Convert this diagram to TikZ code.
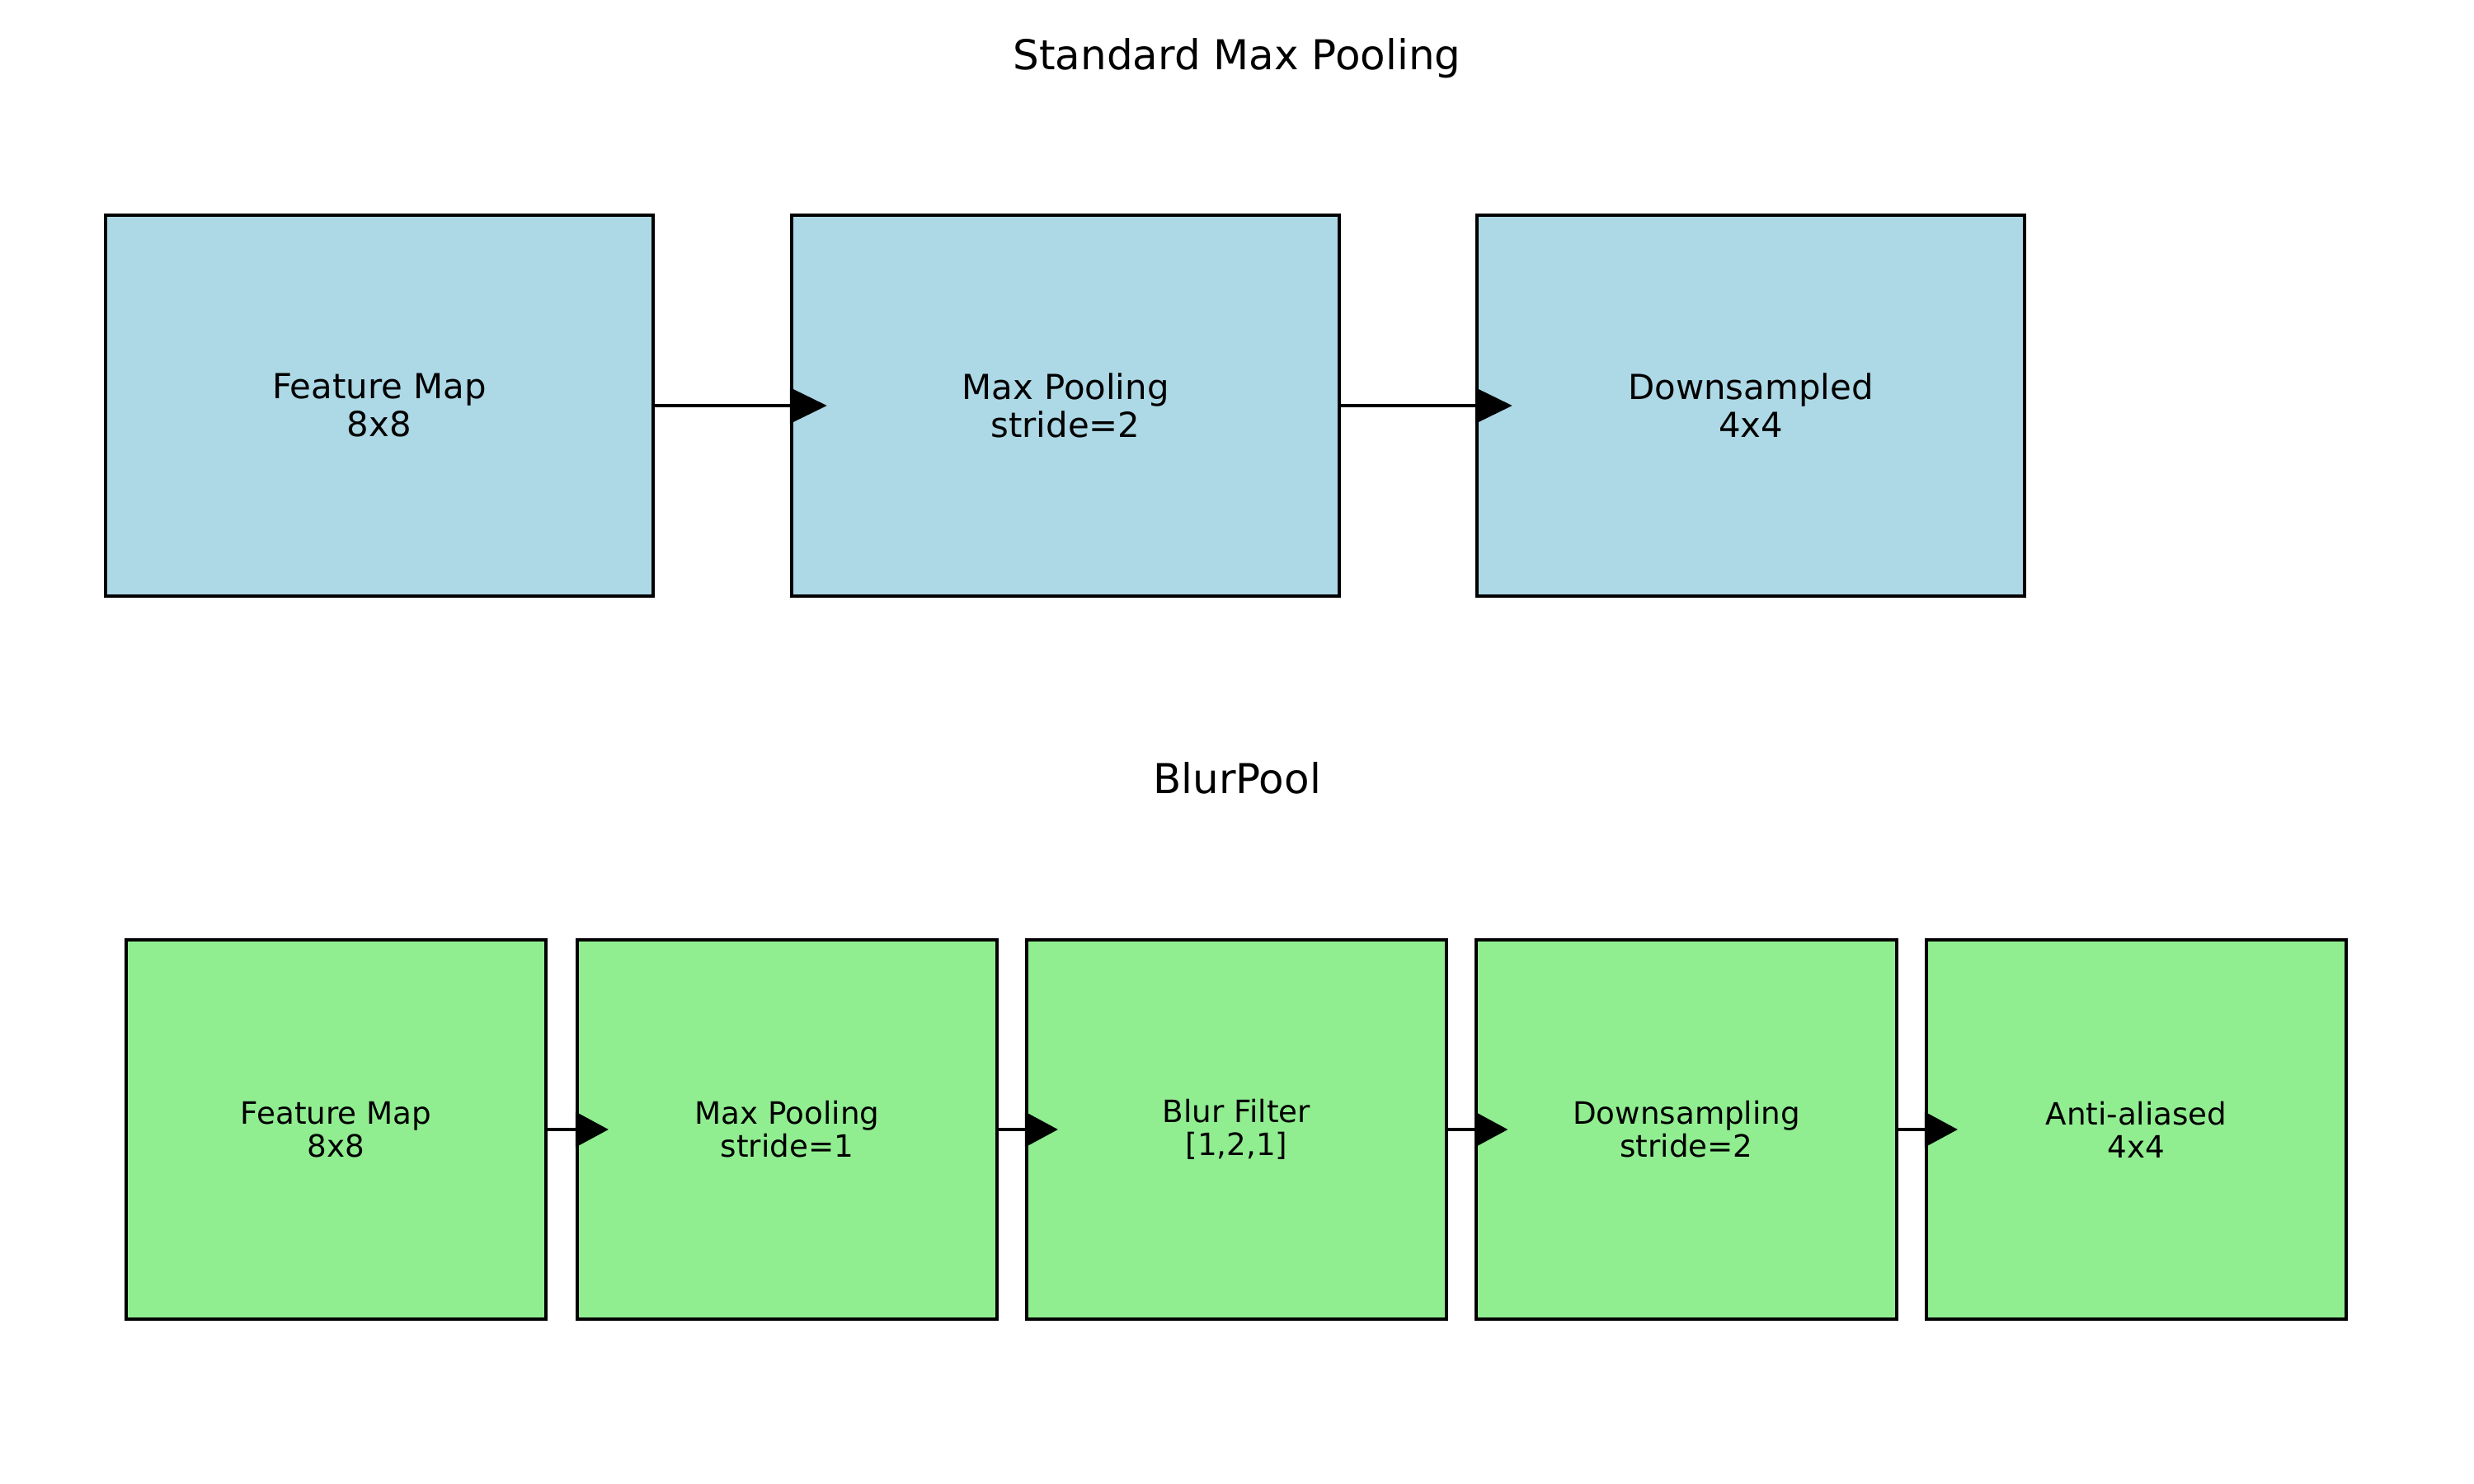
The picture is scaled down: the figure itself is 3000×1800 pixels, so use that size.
\documentclass[tikz,border=0pt]{standalone}
\usepackage{fontspec}
\setmainfont{DejaVu Sans}
\usetikzlibrary{arrows.meta}
\definecolor{lblue}{RGB}{173,216,230}
\definecolor{lgreen}{RGB}{144,238,144}
\begin{document}
\begin{tikzpicture}[x=0.01cm,y=-0.01cm,
  topbox/.style={draw=black,line width=1.15pt,fill=lblue,minimum width=6.64cm,minimum height=4.61cm,inner sep=0pt,align=center,font=\fontsize{11.9}{13.1}\selectfont},
  botbox/.style={draw=black,line width=1.15pt,fill=lgreen,minimum width=5.09cm,minimum height=4.59cm,inner sep=0pt,align=center,font=\fontsize{10.6}{11.4}\selectfont},
  title/.style={anchor=base,font=\fontsize{14.2}{17}\selectfont},
  toparrow/.style={line width=1.15pt,-{Triangle[length=12.8pt,width=12.2pt]}},
  botarrow/.style={line width=1.15pt,-{Triangle[length=11.4pt,width=12pt]}}]
\useasboundingbox[fill=white] (0,0) rectangle (3000,1800);
\node[title] (t1) at (1500,85) {Standard Max Pooling};
\node[title] (t2) at (1500,962) {BlurPool};
\node[topbox] (a1) at (460,492) {Feature Map\\8x8};
\node[topbox] (a2) at (1292,492) {Max Pooling\\stride=2};
\node[topbox] (a3) at (2123,492) {Downsampled\\4x4};
\node[botbox] (b1) at (407.5,1370) {Feature Map\\8x8};
\node[botbox] (b2) at (954.5,1370) {Max Pooling\\stride=1};
\node[botbox] (b3) at (1499.5,1370) {Blur Filter\\{[1,2,1]}};
\node[botbox] (b4) at (2045,1370) {Downsampling\\stride=2};
\node[botbox] (b5) at (2590.5,1370) {Anti-aliased\\4x4};
\draw[toparrow] (a1.east) -- ([xshift=12.8pt]a2.west);
\draw[toparrow] (a2.east) -- ([xshift=12.8pt]a3.west);
\draw[botarrow] (b1.east) -- ([xshift=11.4pt]b2.west);
\draw[botarrow] (b2.east) -- ([xshift=11.4pt]b3.west);
\draw[botarrow] (b3.east) -- ([xshift=11.4pt]b4.west);
\draw[botarrow] (b4.east) -- ([xshift=11.4pt]b5.west);
\end{tikzpicture}
\end{document}
